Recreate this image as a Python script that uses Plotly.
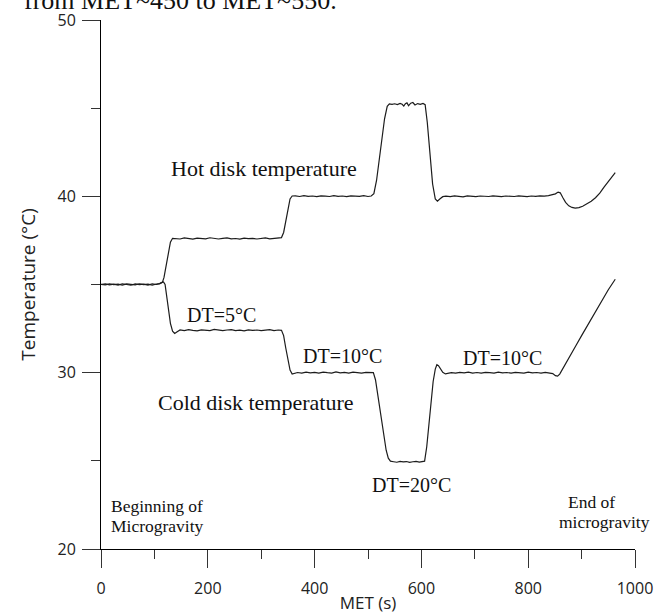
import plotly.graph_objects as go

# Mission elapsed time (s) and hot-disk temperature (°C)
hot_t = [0, 8, 16, 24, 32, 40, 48, 56, 64, 72, 80, 88, 96, 104, 110, 115, 118, 122, 126, 130, 134,
         140, 148, 156, 164, 172, 180, 188, 196, 204, 212, 220, 228, 236, 244, 252, 260, 268, 276, 284, 292,
         300, 308, 316, 324, 332,
         338, 342, 346, 350, 354, 358,
         364, 372, 380, 388, 396, 404, 412, 420, 428, 436, 444, 452, 460, 468, 476, 484, 492, 500, 506,
         511, 516, 521, 526, 531, 536, 540,
         545, 550, 555, 560, 564, 567, 570, 573, 576, 580, 584, 588, 593, 598, 603,
         607, 611, 616, 621, 626, 630, 635, 640,
         646, 654, 662, 670, 678, 686, 694, 702, 710, 718, 726, 734, 742, 750, 758, 766, 774, 782, 790, 798,
         806, 814, 822, 830, 838,
         845, 851, 856, 860, 865, 870, 876, 882, 888, 895, 902, 910, 918, 926, 934, 942, 950, 956, 963]
hot_temp = [35.00, 35.03, 34.98, 35.02, 34.97, 35.04, 35.00, 34.96, 35.03, 34.99, 35.02, 34.97, 35.04, 35.00,
            35.05, 35.12, 35.40, 36.00, 36.80, 37.40, 37.62,
            37.62, 37.58, 37.64, 37.60, 37.57, 37.63, 37.61, 37.59, 37.65, 37.60, 37.58, 37.62, 37.64, 37.59,
            37.61, 37.57, 37.63, 37.60, 37.62, 37.58, 37.61, 37.64, 37.59, 37.62, 37.63,
            37.66, 37.95, 38.60, 39.30, 39.85, 40.02,
            40.03, 39.99, 40.04, 40.00, 40.02, 39.98, 40.03, 40.01, 39.99, 40.04, 40.00, 40.02, 39.98, 40.03,
            40.01, 40.00, 40.04, 39.99, 40.02,
            40.15, 40.90, 42.10, 43.30, 44.40, 45.10, 45.24,
            45.22, 45.25, 45.20, 45.27, 45.22, 45.12, 45.25, 45.30, 45.14, 45.28, 45.32, 45.18, 45.26, 45.22,
            45.27,
            45.20, 44.20, 42.40, 40.70, 39.85, 39.72, 39.86, 39.98,
            40.01, 39.98, 40.02, 40.00, 39.97, 40.03, 40.00, 39.98, 40.02, 40.01, 39.99, 40.03, 40.00, 39.98,
            40.02, 40.00, 39.99, 40.03, 40.01, 39.98, 40.02, 40.00, 40.03, 40.01, 40.04,
            40.08, 40.14, 40.24, 40.20, 39.92, 39.66, 39.46, 39.37, 39.33, 39.36, 39.44, 39.56, 39.72, 39.92,
            40.18, 40.52, 40.86, 41.08, 41.35]

# Mission elapsed time (s) and cold-disk temperature (°C)
cold_t = [0, 8, 16, 24, 32, 40, 48, 56, 64, 72, 80, 88, 96, 104, 110, 114, 117, 120, 123, 126, 130, 134, 138, 142,
          148, 156, 164, 172, 180, 188, 196, 204, 212, 220, 228, 236, 244, 252, 260, 268, 276, 284, 292, 300,
          308, 316, 324, 332,
          338, 342, 346, 350, 354, 358, 362,
          368, 376, 384, 392, 400, 408, 416, 424, 432, 440, 448, 456, 464, 472, 480, 488, 496, 504,
          510, 514, 519, 524, 529, 534, 538, 542,
          548, 554, 560, 566, 572, 578, 584, 590, 596, 602,
          606, 610, 614, 618, 622, 626, 629, 632, 636, 640, 645, 650,
          656, 664, 672, 680, 688, 696, 704, 712, 720, 728, 736, 744, 752, 760, 768, 776, 784, 792, 800, 808,
          816, 824, 832, 840,
          846, 851, 855, 859, 864, 870, 880, 890, 900, 910, 920, 930, 940, 950, 963]
cold_temp = [35.01, 34.98, 35.03, 34.99, 35.02, 34.97, 35.03, 35.00, 34.98, 35.04, 34.99, 35.02, 34.97, 35.03,
             35.05, 35.12, 35.15, 35.00, 34.40, 33.60, 32.80, 32.35, 32.22, 32.30,
             32.42, 32.38, 32.44, 32.40, 32.37, 32.43, 32.41, 32.39, 32.45, 32.40, 32.38, 32.42, 32.44, 32.39,
             32.41, 32.37, 32.43, 32.40, 32.42, 32.38, 32.41, 32.44, 32.39, 32.42,
             32.40, 32.10, 31.40, 30.70, 30.15, 29.92, 29.96,
             30.01, 29.98, 30.03, 29.99, 30.02, 29.97, 30.03, 30.00, 29.98, 30.04, 29.99, 30.02, 29.97, 30.03,
             30.00, 29.98, 30.02, 30.01,
             30.00, 29.60, 28.60, 27.50, 26.40, 25.60, 25.15, 24.98,
             24.95, 24.92, 24.97, 24.94, 24.96, 24.91, 24.95, 24.97, 24.93, 24.96,
             24.98, 25.80, 27.00, 28.30, 29.50, 30.20, 30.45, 30.40, 30.20, 30.02, 29.93, 29.97,
             30.00, 29.97, 30.02, 29.99, 30.03, 29.98, 30.01, 29.97, 30.02, 30.00, 29.98, 30.03, 29.99, 30.01,
             29.97, 30.02, 30.00, 29.98, 30.03, 29.99, 30.01, 29.98, 30.02, 29.99,
             29.95, 29.83, 29.80, 29.92, 30.20, 30.52, 31.05, 31.57, 32.10, 32.63, 33.15, 33.68, 34.20, 34.70,
             35.30]

x_ticks = [0, 200, 400, 600, 800, 1000]
y_ticks = [20, 30, 40, 50]

# Figure geometry (pixels)
W, H = 666, 614
L, R, T, B = 101, 31, 20, 65
PW, PH = W - L - R, H - T - B


def px(x):
    return (x - L) / PW


def py(y):
    return (H - B - y) / PH


SERIF = "Liberation Serif"
SANS = "Open Sans"
LINE = "#1c1c1c"

fig = go.Figure()
fig.add_trace(go.Scatter(x=hot_t, y=hot_temp, mode="lines",
                         line=dict(color=LINE, width=1.2), name="Hot disk"))
fig.add_trace(go.Scatter(x=cold_t, y=cold_temp, mode="lines",
                         line=dict(color=LINE, width=1.2), name="Cold disk"))

notes = [
    # text, x_px, baseline_px, size, xanchor
    ("Hot disk temperature", 263.5, 176, 22, "center"),
    ("Cold disk temperature", 256, 410, 22, "center"),
    ("DT=5°C", 221, 322, 20, "center"),
    ("DT=10°C", 342.5, 363, 20, "center"),
    ("DT=20°C", 411, 492, 20, "center"),
    ("DT=10°C", 502.5, 365, 20, "center"),
    ("Beginning of", 109, 512, 17.5, "left"),
    ("Microgravity", 109, 532, 17.5, "left"),
    ("End of", 591, 508, 17.5, "center"),
    ("microgravity", 604, 528, 17.5, "center"),
]
for text, x, base, size, xa in notes:
    fig.add_annotation(text=text, xref="paper", yref="paper",
                       x=px(x), y=py(base - 0.33 * size),
                       xanchor=xa, yanchor="middle", showarrow=False,
                       font=dict(family=SERIF, size=size, color="#111"))

# running caption line from the page above the chart
fig.add_annotation(text="from MET~450 to MET~550.", xref="paper", yref="paper",
                   x=px(22), y=py(9 - 0.33 * 26), xanchor="left", yanchor="middle",
                   showarrow=False, font=dict(family=SERIF, size=26, color="#111"))

fig.update_xaxes(range=[0, 1000], tickvals=x_ticks, ticktext=[str(v) for v in x_ticks],
                 showline=True, linecolor="black", linewidth=1,
                 ticks="outside", ticklen=18, tickwidth=1, tickcolor="#333",
                 minor=dict(dtick=100, ticks="outside", ticklen=9, tickwidth=1, tickcolor="#333"),
                 showgrid=False, zeroline=False, ticklabelstandoff=7,
                 tickfont=dict(family=SANS, size=16, color="#222"),
                 title=dict(text="MET (s)", font=dict(family=SANS, size=17, color="#222"), standoff=0))
fig.update_yaxes(range=[20, 50], tickvals=y_ticks, ticktext=[str(v) for v in y_ticks],
                 showline=True, linecolor="black", linewidth=1,
                 ticks="outside", ticklen=18, tickwidth=1, tickcolor="#333",
                 minor=dict(dtick=5, ticks="outside", ticklen=9, tickwidth=1, tickcolor="#333"),
                 showgrid=False, zeroline=False, ticklabelstandoff=3,
                 tickfont=dict(family=SANS, size=16, color="#222"),
                 title=dict(text="Temperature (°C)", font=dict(family=SANS, size=19, color="#222"),
                            standoff=16))

fig.update_layout(width=W, height=H, margin=dict(l=L, r=R, t=T, b=B, autoexpand=False),
                  paper_bgcolor="white", plot_bgcolor="white", showlegend=False)

fig.write_html("out.html")
